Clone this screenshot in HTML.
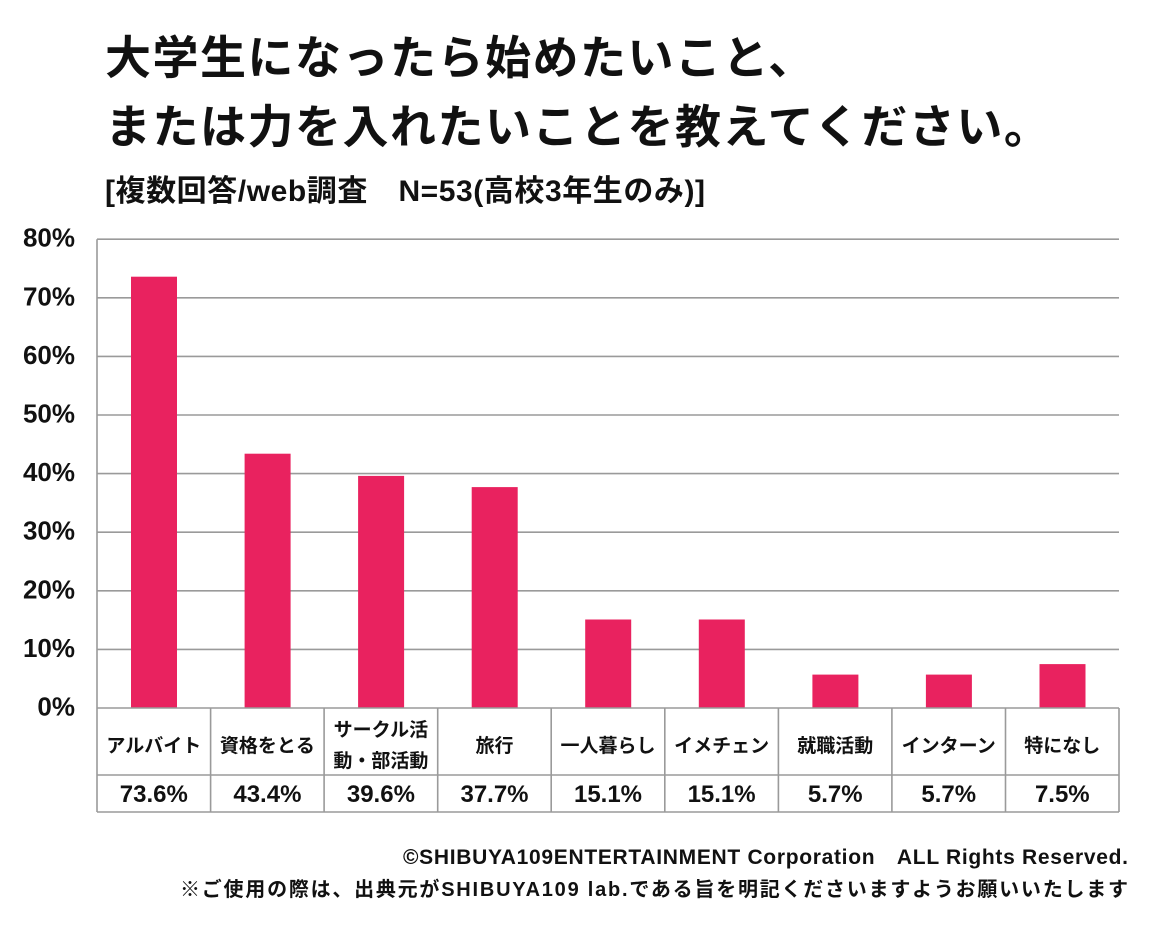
<!DOCTYPE html>
<html><head><meta charset="utf-8"><style>
html,body{margin:0;padding:0;background:#fff;}
svg{display:block;}
text{font-family:"Liberation Sans","Noto Sans CJK JP",sans-serif;font-weight:700;fill:#111;}
</style></head><body>
<svg width="1160" height="935" viewBox="0 0 1160 935" xmlns="http://www.w3.org/2000/svg">
<rect width="1160" height="935" fill="#fff"/>
<!-- Title -->
<text x="105" y="74" font-size="46" letter-spacing="1.5">大学生になったら始めたいこと、</text>
<text x="105" y="143" font-size="46" letter-spacing="1.5">または力を入れたいことを教えてください。</text>
<text x="105" y="201" font-size="30" textLength="600" lengthAdjust="spacing">[複数回答/web調査　N=53(高校3年生のみ)]</text>

<!-- Grid lines -->
<g stroke="#9a9a9a" stroke-width="1.6">
<line x1="97" y1="239.2" x2="1119" y2="239.2"/>
<line x1="97" y1="297.8" x2="1119" y2="297.8"/>
<line x1="97" y1="356.4" x2="1119" y2="356.4"/>
<line x1="97" y1="415" x2="1119" y2="415"/>
<line x1="97" y1="473.6" x2="1119" y2="473.6"/>
<line x1="97" y1="532.2" x2="1119" y2="532.2"/>
<line x1="97" y1="590.8" x2="1119" y2="590.8"/>
<line x1="97" y1="649.4" x2="1119" y2="649.4"/>
</g>

<!-- Y labels -->
<g font-size="26" text-anchor="end">
<text x="75" y="246.7">80%</text>
<text x="75" y="305.3">70%</text>
<text x="75" y="363.9">60%</text>
<text x="75" y="422.5">50%</text>
<text x="75" y="481.1">40%</text>
<text x="75" y="539.7">30%</text>
<text x="75" y="598.3">20%</text>
<text x="75" y="656.9">10%</text>
<text x="75" y="715.5">0%</text>
</g>

<!-- Bars -->
<g fill="#e9225f">
<rect x="131" y="276.7" width="46" height="431.3"/>
<rect x="244.6" y="453.7" width="46" height="254.3"/>
<rect x="358.1" y="475.9" width="46" height="232.1"/>
<rect x="471.7" y="487.1" width="46" height="220.9"/>
<rect x="585.2" y="619.5" width="46" height="88.5"/>
<rect x="698.8" y="619.5" width="46" height="88.5"/>
<rect x="812.4" y="674.6" width="46" height="33.4"/>
<rect x="925.9" y="674.6" width="46" height="33.4"/>
<rect x="1039.5" y="664.1" width="46" height="43.9"/>
</g>

<!-- Table / axes -->
<g stroke="#9a9a9a" stroke-width="1.6" fill="none">
<line x1="97" y1="239.2" x2="97" y2="812"/>
<line x1="97" y1="708" x2="1119" y2="708"/>
<line x1="97" y1="775" x2="1119" y2="775"/>
<line x1="97" y1="812" x2="1119" y2="812"/>
<line x1="1119" y1="708" x2="1119" y2="812"/>
<line x1="210.6" y1="708" x2="210.6" y2="812"/>
<line x1="324.1" y1="708" x2="324.1" y2="812"/>
<line x1="437.7" y1="708" x2="437.7" y2="812"/>
<line x1="551.2" y1="708" x2="551.2" y2="812"/>
<line x1="664.8" y1="708" x2="664.8" y2="812"/>
<line x1="778.4" y1="708" x2="778.4" y2="812"/>
<line x1="891.9" y1="708" x2="891.9" y2="812"/>
<line x1="1005.5" y1="708" x2="1005.5" y2="812"/>
</g>

<!-- Category labels -->
<g font-size="19" text-anchor="middle">
<text x="153.8" y="752">アルバイト</text>
<text x="267.4" y="752">資格をとる</text>
<text x="380.9" y="736">サークル活</text>
<text x="380.9" y="767">動・部活動</text>
<text x="494.5" y="752">旅行</text>
<text x="608" y="752">一人暮らし</text>
<text x="721.6" y="752">イメチェン</text>
<text x="835.2" y="752">就職活動</text>
<text x="948.7" y="752">インターン</text>
<text x="1062.3" y="752">特になし</text>
</g>

<!-- Values -->
<g font-size="24" text-anchor="middle">
<text x="153.8" y="802">73.6%</text>
<text x="267.4" y="802">43.4%</text>
<text x="380.9" y="802">39.6%</text>
<text x="494.5" y="802">37.7%</text>
<text x="608" y="802">15.1%</text>
<text x="721.6" y="802">15.1%</text>
<text x="835.2" y="802">5.7%</text>
<text x="948.7" y="802">5.7%</text>
<text x="1062.3" y="802">7.5%</text>
</g>

<!-- Footer -->
<text x="403" y="864" font-size="21" textLength="725" lengthAdjust="spacing">©SHIBUYA109ENTERTAINMENT Corporation　ALL Rights Reserved.</text>
<text x="180" y="896" font-size="20" textLength="948" lengthAdjust="spacing">※ご使用の際は、出典元がSHIBUYA109 lab.である旨を明記くださいますようお願いいたします</text>
</svg>
</body></html>
